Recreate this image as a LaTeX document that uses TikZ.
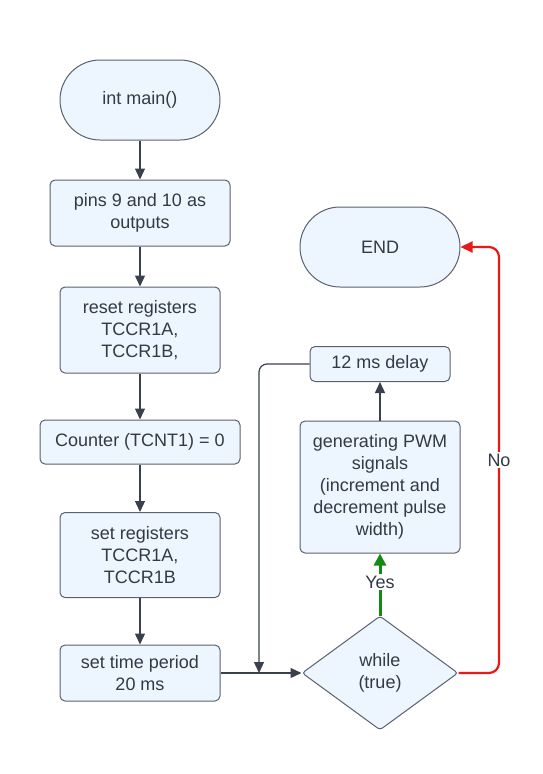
\documentclass[tikz,border=0pt]{standalone}
\usepackage{fontspec}
\setmainfont{Liberation Sans}
\usetikzlibrary{arrows.meta,shapes.geometric}
\definecolor{boxfill}{HTML}{EDF5FF}
\definecolor{boxline}{HTML}{5B6170}
\definecolor{txt}{HTML}{333A45}
\definecolor{arr}{HTML}{3A414E}
\definecolor{yesgreen}{HTML}{138A13}
\definecolor{nored}{HTML}{E81919}
\begin{document}
\begin{tikzpicture}[x=1pt,y=-1pt,
  box/.style={draw=boxline, fill=boxfill, line width=1pt, rounded corners=5pt, align=center, text=txt, font=\fontsize{18}{22}\selectfont, inner sep=0pt},
  term/.style={box, rounded corners=40pt, minimum width=160pt, minimum height=80pt},
  lbl/.style={fill=white, text=txt, font=\fontsize{18}{22}\selectfont, inner sep=2pt},
  flow/.style={draw=arr, line width=1.2pt, -{Triangle[length=11pt,width=10pt]}},
  yesflow/.style={draw=yesgreen, line width=3pt, -{Triangle[length=12pt,width=12pt]}},
  noflow/.style={draw=nored, line width=2.2pt, rounded corners=10pt, -{Triangle[length=12pt,width=11pt]}}]
\useasboundingbox (0,0) rectangle (543,774);
\node[term] (main) at (140,100) {int main()};
\node[box, minimum width=180pt, minimum height=66pt] (pins) at (140,213) {pins 9 and 10 as\\outputs};
\node[box, minimum width=160pt, minimum height=86pt] (reset) at (140,330) {reset registers\\TCCR1A,\\TCCR1B,};
\node[box, minimum width=200pt, minimum height=44pt] (cnt) at (140,442) {Counter (TCNT1) = 0};
\node[box, minimum width=160pt, minimum height=85pt] (setr) at (140,555) {set registers\\TCCR1A,\\TCCR1B};
\node[box, minimum width=160pt, minimum height=56pt] (time) at (140,673) {set time period\\20 ms};
\node[box, diamond, aspect=1.37, minimum width=156pt, minimum height=114pt, rounded corners=3pt] (dia) at (380,673) {while\\(true)};
\node[box, minimum width=160pt, minimum height=132pt] (gen) at (380,487) {generating PWM\\signals\\(increment and\\decrement pulse\\width)};
\node[box, minimum width=140pt, minimum height=35pt] (delay) at (380,364) {12 ms delay};
\node[term] (end) at (380,247) {END};
\coordinate (join) at (259,673);
\coordinate (nopt) at (499,460);
\draw[flow] (main) -- (pins);
\draw[flow] (pins) -- (reset);
\draw[flow] (reset) -- (cnt);
\draw[flow] (cnt) -- (setr);
\draw[flow] (setr) -- (time);
\draw[flow] (time) -- (dia);
\draw[flow] (gen) -- (delay);
\draw[flow, rounded corners=8pt] (delay.west) -| (join);
\draw[yesflow] (dia.north) -- node[lbl, pos=0.54] {Yes} (gen.south);
\draw[noflow] (dia.east) -| (nopt) |- (end.east);
\node[lbl] at (nopt) {No};
\end{tikzpicture}
\end{document}
